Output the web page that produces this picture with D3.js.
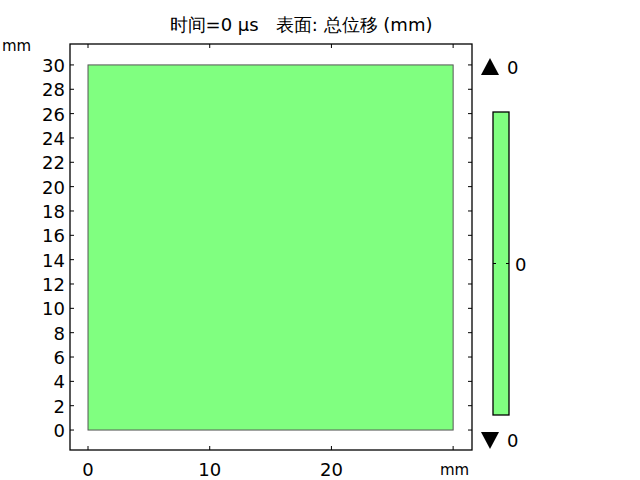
<html>
<head>
<meta charset="utf-8">
<script src="https://cdn.jsdelivr.net/npm/d3@7"></script>
<style>
body { margin: 0; background: white; }
text { font-family: "DejaVu Sans", sans-serif; fill: black; white-space: pre; }
</style>
</head>
<body>
<svg width="640" height="480"></svg>
<script>
// data
var title = "时间=0 µs   表面: 总位移 (mm)";
var xTicks = [0, 10, 20, 30];
var xTickLabels = ["0", "10", "20"];
var yTicks = [0, 2, 4, 6, 8, 10, 12, 14, 16, 18, 20, 22, 24, 26, 28, 30];
var domainRect = [0, 30, 0, 30]; // x0, x1, y0, y1 in mm
var colorMin = 0, colorMax = 0;
var barColor = "#80ff80";

var svg = d3.select("svg");
var pLeft = 70, pRight = 472, pTop = 44, pBottom = 450;

var x = d3.scaleLinear().domain([-1.48, 31.55]).range([pLeft, pRight]);
var y = d3.scaleLinear().domain([-1.64, 31.72]).range([pBottom, pTop]);

// the geometry
svg.append("rect")
	.attr("x", x(domainRect[0])).attr("y", y(domainRect[3]))
	.attr("width", x(domainRect[1]) - x(domainRect[0]))
	.attr("height", y(domainRect[2]) - y(domainRect[3]))
	.attr("fill", barColor).attr("stroke", "#555").attr("stroke-width", 1);

// axes box
svg.append("rect").attr("x", pLeft).attr("y", pTop).attr("width", pRight - pLeft).attr("height", pBottom - pTop)
	.attr("fill", "none").attr("stroke", "black").attr("stroke-width", 1.3);

var tl = 4;
var g = svg.append("g").attr("stroke", "black").attr("stroke-width", 1);
xTicks.forEach(function(d) {
	g.append("line").attr("x1", x(d)).attr("x2", x(d)).attr("y1", pBottom).attr("y2", pBottom - tl);
	g.append("line").attr("x1", x(d)).attr("x2", x(d)).attr("y1", pTop).attr("y2", pTop + tl);
});
yTicks.forEach(function(d) {
	g.append("line").attr("x1", pLeft).attr("x2", pLeft + tl).attr("y1", y(d)).attr("y2", y(d));
	g.append("line").attr("x1", pRight).attr("x2", pRight - tl).attr("y1", y(d)).attr("y2", y(d));
});

svg.append("g").selectAll("text").data(xTickLabels).enter().append("text")
	.attr("x", function(d){ return x(+d); }).attr("y", 476)
	.attr("text-anchor", "middle").style("font-size", "18px").text(function(d){ return d; });
svg.append("g").selectAll("text").data(yTicks).enter().append("text")
	.attr("x", 65).attr("y", function(d){ return y(d) + 7; })
	.attr("text-anchor", "end").style("font-size", "18px").text(function(d){ return d; });

svg.append("text").attr("x", 2).attr("y", 51).style("font-size", "15px").text("mm");
svg.append("text").attr("x", 440).attr("y", 475).style("font-size", "15px").text("mm");

svg.append("text").attr("x", 301).attr("y", 31).attr("text-anchor", "middle").style("font-size", "18px").text(title);

// color legend
var c = d3.scaleLinear().domain([0, 1]).range([415, 112]);
svg.append("rect").attr("x", 493).attr("y", c(1)).attr("width", 16).attr("height", c(0) - c(1))
	.attr("fill", barColor).attr("stroke", "black").attr("stroke-width", 1.3);
svg.append("line").attr("x1", 493).attr("x2", 496).attr("y1", c(0.5)).attr("y2", c(0.5)).attr("stroke", "black");
svg.append("line").attr("x1", 509).attr("x2", 506).attr("y1", c(0.5)).attr("y2", c(0.5)).attr("stroke", "black");
svg.append("text").attr("x", 515).attr("y", c(0.5) + 7).style("font-size", "18px").text(colorMin);

svg.append("path").attr("d", "M481,75 L499,75 L490,58 Z").attr("fill", "black");
svg.append("text").attr("x", 507).attr("y", 74).style("font-size", "18px").text(colorMax);
svg.append("path").attr("d", "M481,432 L499,432 L490,449 Z").attr("fill", "black");
svg.append("text").attr("x", 507).attr("y", 447).style("font-size", "18px").text(colorMin);
</script>
</body>
</html>
